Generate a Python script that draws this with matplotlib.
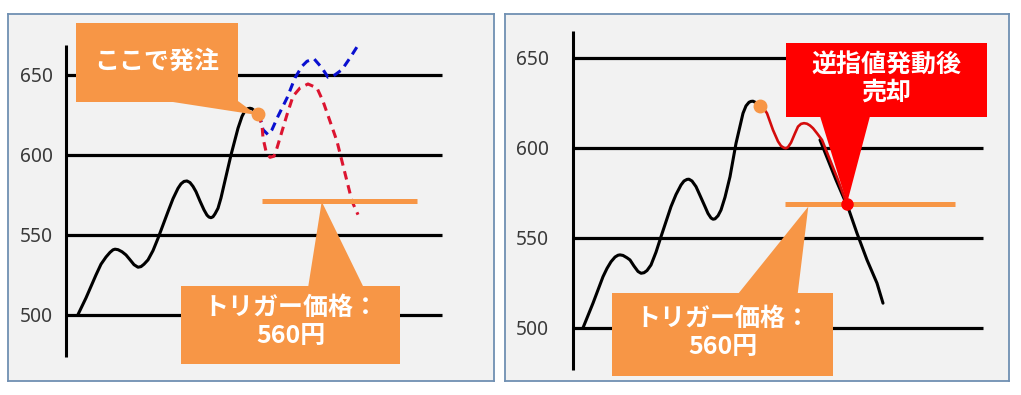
import matplotlib
matplotlib.use('Agg')
import matplotlib.pyplot as plt
from matplotlib.patches import Polygon, Rectangle

# ---------------- data ----------------
GRID_LEVELS = [500, 550, 600, 650]
TICK_LABELS = ['500', '550', '600', '650']

# left panel: price path up to the order point
left_t = [12, 20, 30, 35, 40, 44, 47, 49, 52, 56, 60, 64, 68, 72, 75, 78, 82, 87, 92,
          102, 107, 112, 115, 118, 121, 124, 127, 130, 134, 138, 141, 143, 145, 147,
          149, 152, 155, 158, 165, 172, 176, 179, 182, 184, 186, 189, 192]
left_p = [500, 510.4, 524.8, 531.5, 536.0, 538.9, 540.5, 540.9, 540.6, 539.3, 537.3,
          534.3, 531.2, 529.6, 530.0, 531.5, 534.2, 540.0, 547.7, 564.4, 572.5, 579.0,
          581.8, 583.3, 583.6, 582.6, 580.2, 576.9, 571.0, 565.5, 562.2, 561.0, 560.6,
          561.2, 563.0, 566.5, 573.0, 581.1, 599.9, 616.6, 624.0, 627.6, 628.9, 629.1,
          628.8, 627.2, 625.3]

# left panel: possible future paths (dashed)
red_t = [192, 196, 197, 200, 204, 208, 211, 214, 221, 227, 234, 242, 251, 257, 264,
         271, 276, 281, 286, 292]
red_p = [625.3, 618.8, 610.5, 602.2, 598.4, 599.1, 604.3, 610.5, 625.1, 636.6, 641.8,
         644.3, 641.8, 633.5, 621.0, 608.4, 595.9, 583.4, 570.9, 562.5]
blue_t = [192, 195, 197, 202, 206, 212, 221, 229, 236, 241, 248, 256, 262, 267, 276,
          284, 292]
blue_p = [625.3, 621.0, 615.7, 612.6, 615.7, 624.1, 635.5, 648.1, 655.4, 658.5, 660.1,
          654.3, 648.5, 649.1, 653.3, 660.6, 668.5]
left_trigger = 571.3
left_trigger_t = [196, 351]

# right panel: price path up to the order point
rb_t = [10, 20, 30, 34, 38, 42, 45, 47, 50, 54, 57, 61, 65, 68, 71, 74, 78, 83, 88, 98,
        103, 108, 111, 114, 116, 119, 123, 127, 132, 135, 138, 140, 142, 145, 148, 152,
        157, 163, 170, 173, 176, 178, 180, 183, 187]
rb_p = [500, 513.7, 528.4, 533.0, 536.7, 539.3, 540.3, 540.5, 540.2, 538.9, 537.7,
        534.3, 531.3, 530.3, 530.6, 531.8, 534.9, 542.0, 550.6, 567.3, 574.0, 579.3,
        581.5, 582.4, 582.5, 581.5, 578.4, 573.5, 567.3, 563.5, 561.0, 560.3, 560.5,
        562.2, 565.4, 572.5, 583.9, 602.4, 619.1, 623.2, 625.2, 625.7, 625.8, 625.0,
        623.1]
# right panel: path after the order until the stop is hit (red)
rr_t = [187, 191, 194, 200, 205, 208, 211, 213, 215, 218, 222, 225, 228, 231, 234, 237,
        240, 244, 249, 257, 265, 274]
rr_p = [623.1, 621.5, 619.1, 609.8, 603.5, 601.0, 599.9, 599.7, 600.3, 602.8, 608.0,
        611.7, 613.2, 613.6, 613.3, 612.3, 610.8, 608.0, 604.3, 593.2, 582.1, 568.5]
# black path visible beside the red one, then the fall after the stop
rm_t = [247, 255, 263, 272, 274]
rm_p = [604.3, 593.2, 582.1, 570.5, 568.5]
rf_t = [274, 284, 294, 304, 310]
rf_p = [568.5, 552.5, 537.7, 524.8, 513.7]
right_trigger = 568.5
right_trigger_t = [211.5, 382]

ORDER_TEXT = 'ここで発注'
TRIGGER_TEXT = 'トリガー価格：\n560円'
SELL_TEXT = '逆指値発動後\n売却'

# ---------------- styles ----------------
ORANGE = '#f79646'
RED = '#ff0000'
BORDER = '#7090b2'
BG = '#f2f2f2'
CJK = ['Noto Sans CJK JP', 'DejaVu Sans']

W, H = 1021, 395
fig = plt.figure(figsize=(W / 100, H / 100), dpi=100)
fig.patch.set_facecolor('white')


def px_axes(x0, y0, x1, y1):
    return fig.add_axes([x0 / W, 1 - y1 / H, (x1 - x0) / W, (y1 - y0) / H])


def style_panel(ax, xlim, ylim, pad):
    ax.set_xlim(*xlim)
    ax.set_ylim(*ylim)
    ax.set_facecolor(BG)
    for s in ax.spines.values():
        s.set_color(BORDER)
        s.set_linewidth(1.3)
    ax.set_xticks([])
    ax.set_yticks(GRID_LEVELS, TICK_LABELS)
    ax.tick_params(axis='y', length=0, pad=pad, labelsize=13.8, labelcolor='#3a3a3a')
    for lab in ax.get_yticklabels():
        lab.set_fontfamily('Noto Sans')


def callout(ax, rect, tri, text_xy, text, color, fs=18, ls=1.2):
    x0, x1, y0, y1 = rect
    ax.add_patch(Rectangle((x0, y0), x1 - x0, y1 - y0, facecolor=color,
                           edgecolor='none', zorder=6, clip_on=False))
    ax.add_patch(Polygon(tri, closed=True, facecolor=color, edgecolor='none',
                         zorder=6, clip_on=False))
    ax.text(text_xy[0], text_xy[1], text, ha='center', va='center', color='white',
            fontsize=fs, fontweight='bold', family=CJK, linespacing=ls, zorder=7,
            multialignment='center')


line_kw = dict(solid_joinstyle='round', solid_capstyle='round')

# ---------- left panel ----------
axL = px_axes(8, 14, 494, 381)
style_panel(axL, (-58, 428), (458.4, 688.1), -32.4)
axL.hlines(GRID_LEVELS, 0, 376, color='black', lw=2.3, zorder=2)
axL.vlines(0, 473.5, 668.7, color='black', lw=2.2, zorder=2)
axL.plot(left_t, left_p, color='black', lw=2.2, zorder=3, **line_kw)
axL.plot(blue_t, blue_p, color='#0a10d0', lw=2.2, ls=(0, (2.8, 1.9)), zorder=3)
axL.plot(red_t, red_p, color='#dc1430', lw=2.2, ls=(0, (2.8, 1.9)), zorder=3)
axL.hlines(left_trigger, left_trigger_t[0], left_trigger_t[1], color=ORANGE, lw=3.6,
           zorder=4)
callout(axL, (10, 172.3, 633.2, 682.3), [(102, 633.5), (172.3, 633.5), (191, 624.9)],
        (91, 658.3), ORDER_TEXT, ORANGE)
callout(axL, (115, 334, 469.1, 518.1), [(242.3, 517.8), (297, 517.8), (255.7, 570.7)],
        (224.5, 495.1), TRIGGER_TEXT, ORANGE, ls=1.22)
axL.plot([left_t[-1]], [left_p[-1]], 'o', color=ORANGE, ms=9, zorder=8)

# ---------- right panel ----------
axR = px_axes(505, 14, 1009, 381)
style_panel(axR, (-68, 436), (470.5, 674.2), -31.7)
axR.hlines(GRID_LEVELS, 0, 410, color='black', lw=2.3, zorder=2)
axR.vlines(0, 476.6, 664.8, color='black', lw=2.2, zorder=2)
axR.plot(rb_t, rb_p, color='black', lw=2.2, zorder=3, **line_kw)
axR.plot(rm_t + rf_t[1:], rm_p + rf_p[1:], color='black', lw=2.2, zorder=3, **line_kw)
axR.plot(rr_t, rr_p, color='#d40c0c', lw=1.9, zorder=4, **line_kw)
axR.hlines(right_trigger, right_trigger_t[0], right_trigger_t[1], color=ORANGE, lw=3.6,
           zorder=4)
callout(axR, (39.3, 260.3, 473.3, 519.2), [(165.3, 519), (224.7, 519), (235.3, 567.3)],
        (149.8, 497.2), TRIGGER_TEXT, ORANGE, ls=1.2)
callout(axR, (213, 413.7, 617.2, 658.3), [(247, 617.5), (297, 617.5), (274, 569.1)],
        (313.3, 638.5), SELL_TEXT, RED, ls=1.2)
axR.plot([rr_t[0]], [rr_p[0]], 'o', color=ORANGE, ms=9, zorder=8)
axR.plot([rr_t[-1]], [rr_p[-1]], 'o', color=RED, ms=8, zorder=8)

fig.savefig('out.png', dpi=100, facecolor='white')
